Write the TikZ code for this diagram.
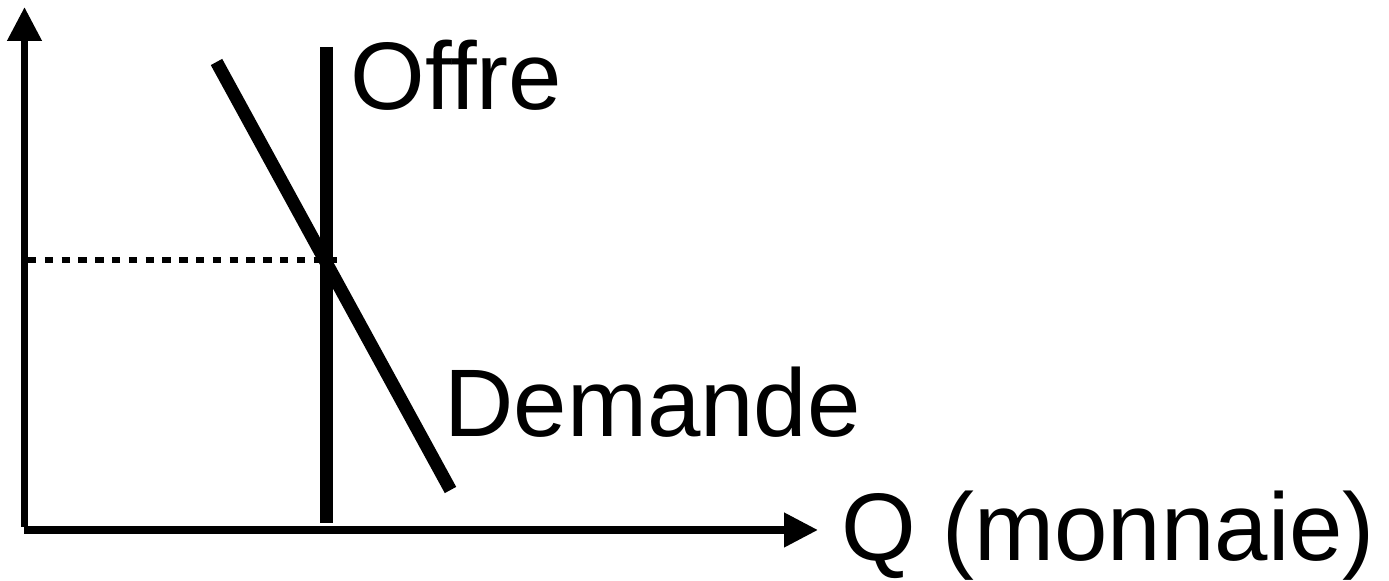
\documentclass[tikz,border=0pt]{standalone}
\usepackage{fontspec}
\setmainfont{Liberation Sans}
\usetikzlibrary{arrows.meta}
\begin{document}
\begin{tikzpicture}[x=0.5pt,y=-0.5pt,
  axisline/.style={line width=3.75pt,-{Triangle[length=17pt,width=16.5pt]}},
  curve/.style={line width=6.5pt},
  guide/.style={line width=3pt,dash pattern=on 4.2pt off 4.2pt},
  lbl/.style={inner sep=0pt,anchor=base west,font=\fontsize{48}{58}\selectfont}]
\useasboundingbox (0,0) rectangle (1389,581);
\coordinate (ybot) at (24.5,527);
\coordinate (ytop) at (24.5,7);
\coordinate (xleft) at (24,530);
\coordinate (xright) at (818,530);
\coordinate (stop) at (326.5,47);
\coordinate (sbot) at (326.5,523);
\coordinate (dtop) at (216.5,62);
\coordinate (dbot) at (450.5,490);
\coordinate (gl) at (28,260);
\coordinate (gr) at (337,260);
\draw[axisline] (ybot) -- (ytop);
\draw[axisline] (xleft) -- (xright);
\draw[curve] (stop) -- (sbot);
\draw[curve] (dtop) -- (dbot);
\draw[guide] (gl) -- (gr);
\node[lbl] (offre) at (350,110) {Offre};
\node[lbl] (demande) at (444,437) {Demande};
\node[lbl] (q) at (841,561) {Q (monnaie)};
\end{tikzpicture}
\end{document}
